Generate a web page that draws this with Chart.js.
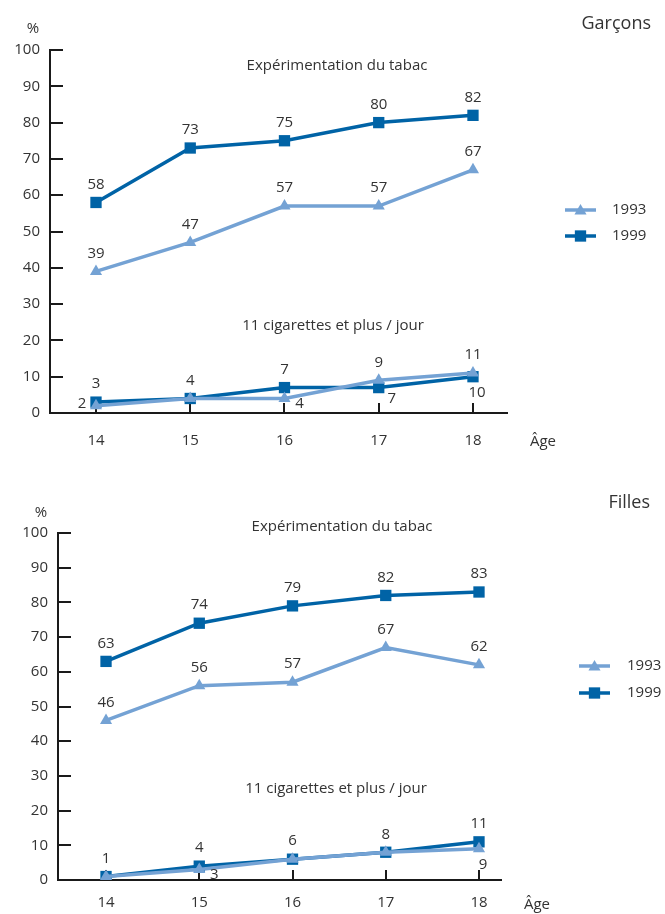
<!DOCTYPE html>
<html><head><meta charset="utf-8">
<script src="https://cdn.jsdelivr.net/npm/chart.js@4"></script>
<style>
html,body{margin:0;padding:0;background:#fff;}
#wrap{position:relative;width:665px;height:914px;overflow:hidden;}
.panel{position:absolute;left:0;width:665px;height:457px;}
</style></head>
<body><div id="wrap">
<div class="panel" style="top:0"><canvas id="c1" width="665" height="457"></canvas></div>
<div class="panel" style="top:457px"><canvas id="c2" width="665" height="457"></canvas></div>
</div>
<script>
// ---- data ----
const ages = [14, 15, 16, 17, 18];
const seriesYears = ['1993', '1999'];
const boysExp1993 = [39, 47, 57, 57, 67];
const boysExp1999 = [58, 73, 75, 80, 82];
const boysCig1993 = [2, 4, 4, 9, 11];
const boysCig1999 = [3, 4, 7, 7, 10];
const girlsExp1993 = [46, 56, 57, 67, 62];
const girlsExp1999 = [63, 74, 79, 82, 83];
const girlsCig1993 = [1, 3, 6, 8, 9];
const girlsCig1999 = [1, 4, 6, 8, 11];
const panelTitles = ['Garçons', 'Filles'];
const groupLabels = ['Expérimentation du tabac', '11 cigarettes et plus / jour'];
const yUnit = '%';
const xTitle = 'Âge';

// ---- styles ----
const FONT = '"Open Sans", "Noto Sans", sans-serif';
const TEXT = '#333333';
const AXIS = '#1a1a1a';
const LIGHT = '#74a2d4';
const DARK = '#0063a6';
const FS = 15;

Chart.defaults.font.family = FONT;
Chart.defaults.color = TEXT;

const LABEL_OFFSETS = {
  above: [0, -18], below: [4, 16], belowright: [13, 11], right: [15, 5], left: [-14, -2]
};

function drawMarker(ctx, style, x, y, r, color) {
  ctx.fillStyle = color;
  ctx.beginPath();
  if (style === 'rect') {
    const s = r * Math.SQRT1_2;
    ctx.rect(x - s, y - s, 2 * s, 2 * s);
  } else {
    for (let i = 0; i < 3; i++) {
      const a = -Math.PI / 2 + i * 2 * Math.PI / 3;
      const px = x + Math.cos(a) * r, py = y + Math.sin(a) * r;
      if (i === 0) ctx.moveTo(px, py); else ctx.lineTo(px, py);
    }
    ctx.closePath();
  }
  ctx.fill();
}

const overlay = {
  id: 'overlay',
  beforeDatasetsDraw(chart) {
    const ctx = chart.ctx, xs = chart.scales.x, ys = chart.scales.y;
    ctx.save();
    ctx.strokeStyle = AXIS; ctx.lineWidth = 2;
    ys.ticks.forEach(t => {
      if (t.value === 0) return;
      const py = Math.round(ys.getPixelForValue(t.value));
      ctx.beginPath(); ctx.moveTo(xs.left, py); ctx.lineTo(xs.left + 13, py); ctx.stroke();
    });
    xs.ticks.forEach(t => {
      const px = Math.round(xs.getPixelForValue(t.value));
      ctx.beginPath(); ctx.moveTo(px, ys.bottom); ctx.lineTo(px, ys.bottom - 10); ctx.stroke();
    });
    ctx.restore();
  },
  afterDatasetsDraw(chart) {
    const ctx = chart.ctx;
    ctx.save();
    ctx.font = FS + 'px ' + FONT; ctx.fillStyle = TEXT;
    ctx.textAlign = 'center'; ctx.textBaseline = 'middle';
    chart.data.datasets.forEach((ds, i) => {
      const meta = chart.getDatasetMeta(i);
      meta.data.forEach((pt, j) => {
        const pos = ds.labelPos[j];
        if (pos === 'none') return;
        const off = LABEL_OFFSETS[pos];
        ctx.fillText(String(ds.data[j].y), pt.x + off[0], pt.y + off[1]);
      });
    });
    ctx.restore();
  },
  afterDraw(chart) {
    const o = chart.options.plugins.overlay;
    const ctx = chart.ctx;
    ctx.save();
    ctx.fillStyle = TEXT; ctx.textBaseline = 'middle';
    ctx.font = '18px ' + FONT; ctx.textAlign = 'right';
    ctx.fillText(o.title, o.titlePos[0], o.titlePos[1]);
    ctx.font = FS + 'px ' + FONT; ctx.textAlign = 'center';
    ctx.fillText(yUnit, o.unitPos[0], o.unitPos[1]);
    ctx.fillText(xTitle, o.agePos[0], o.agePos[1]);
    ctx.fillText(groupLabels[0], o.expPos[0], o.expPos[1]);
    ctx.fillText(groupLabels[1], o.cigPos[0], o.cigPos[1]);
    // legend
    const leg = o.legend;
    const styles = [['triangle', LIGHT, 7], ['rect', DARK, 8]];
    seriesYears.forEach((yr, k) => {
      const ly = leg.y + k * leg.gap;
      ctx.strokeStyle = styles[k][1]; ctx.lineWidth = 3.5;
      ctx.beginPath(); ctx.moveTo(leg.x, ly); ctx.lineTo(leg.x + 31, ly); ctx.stroke();
      drawMarker(ctx, styles[k][0], leg.x + 15.5, ly + (k === 0 ? 1 : 0), styles[k][2], styles[k][1]);
      ctx.fillStyle = TEXT; ctx.textAlign = 'left'; ctx.font = FS + 'px ' + FONT;
      ctx.fillText(yr, leg.textX, ly);
    });
    ctx.restore();
  }
};

function pts(arr) { return arr.map((v, i) => ({ x: ages[i], y: v })); }

function dataset(arr, year, labelPos) {
  const light = year === '1993';
  return {
    label: year, data: pts(arr), labelPos,
    borderColor: light ? LIGHT : DARK, backgroundColor: light ? LIGHT : DARK,
    borderWidth: 3.5, tension: 0,
    pointStyle: light ? 'triangle' : 'rect',
    pointRadius: light ? 7 : 8, pointBorderWidth: 0,
    pointHoverRadius: light ? 7 : 8
  };
}

function makeChart(id, g, sets, ov) {
  return new Chart(document.getElementById(id), {
    type: 'line',
    data: { datasets: sets },
    options: {
      responsive: false, animation: false, devicePixelRatio: 1,
      layout: { padding: { top: g.top, right: g.right, bottom: 0, left: 0 } },
      plugins: { legend: { display: false }, tooltip: { enabled: false }, overlay: ov },
      scales: {
        x: {
          type: 'linear', min: g.xmin, max: g.xmax,
          afterBuildTicks: s => { s.ticks = ages.map(v => ({ value: v })); },
          afterFit: s => { s.height = g.xh; },
          grid: { display: false, drawTicks: false },
          border: { display: true, color: AXIS, width: 2 },
          ticks: { padding: g.xpad, font: { size: FS }, color: TEXT, callback: v => String(v), maxRotation: 0 }
        },
        y: {
          min: 0, max: 100,
          afterFit: s => { s.width = g.yw; },
          grid: { display: false, drawTicks: false },
          border: { display: true, color: AXIS, width: 2 },
          ticks: { stepSize: 10, padding: 10, font: { size: FS }, color: TEXT }
        }
      }
    },
    plugins: [overlay]
  });
}

makeChart('c1',
  { top: 50, right: 158, yw: 50, xh: 44, xmin: 13.512, xmax: 18.361, xpad: 19 },
  [
    dataset(boysExp1993, '1993', ['above', 'above', 'above', 'above', 'above']),
    dataset(boysCig1993, '1993', ['left', 'none', 'right', 'above', 'above']),
    dataset(boysExp1999, '1999', ['above', 'above', 'above', 'above', 'above']),
    dataset(boysCig1999, '1999', ['above', 'above', 'above', 'belowright', 'below'])
  ],
  { title: panelTitles[0], titlePos: [651, 24], unitPos: [33, 29], agePos: [543, 442],
    expPos: [337, 66], cigPos: [333, 326], legend: { x: 565, y: 210, gap: 26, textX: 612 } }
);

makeChart('c2',
  { top: 76, right: 164, yw: 58, xh: 34, xmin: 13.485, xmax: 18.236, xpad: 14 },
  [
    dataset(girlsExp1993, '1993', ['above', 'above', 'above', 'above', 'above']),
    dataset(girlsCig1993, '1993', ['none', 'right', 'none', 'none', 'below']),
    dataset(girlsExp1999, '1999', ['above', 'above', 'above', 'above', 'above']),
    dataset(girlsCig1999, '1999', ['above', 'above', 'above', 'above', 'above'])
  ],
  { title: panelTitles[1], titlePos: [650, 46], unitPos: [41, 56], agePos: [537, 448],
    expPos: [342, 70], cigPos: [336, 332], legend: { x: 579, y: 209, gap: 27, textX: 627 } }
);
</script>
</body></html>
